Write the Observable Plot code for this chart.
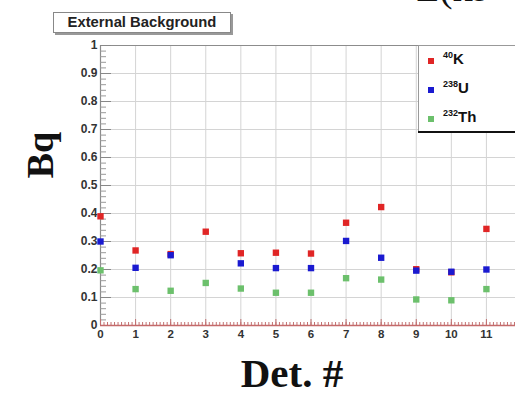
<!DOCTYPE html>
<html>
<head>
<meta charset="utf-8">
<script src="https://cdn.jsdelivr.net/npm/d3@7"></script>
<script src="https://cdn.jsdelivr.net/npm/@observablehq/plot@0.6"></script>
<style>
  html, body { margin: 0; padding: 0; background: #fff; }
  #wrap { position: relative; width: 515px; height: 396px; overflow: hidden; background: #fff; }
  #chart { position: absolute; left: 0; top: 0; width: 540px; }
  #chart svg { max-width: none !important; }
  .title-box { position: absolute; left: 53px; top: 12px; width: 176px; height: 19px;
    border: 1px solid #888; box-shadow: 2px 2px 0 #999; background: #fff;
    font: bold 14.8px "Liberation Sans", Arial, sans-serif; color: #222;
    text-align: center; line-height: 19px; }
  .legend { position: absolute; left: 418px; top: 45px; width: 120px; height: 85px;
    background: #fff; border-left: 1px solid #999; border-top: 1px solid #999;
    box-shadow: 0 2px 0 #111; font-family: "Liberation Sans", Arial, sans-serif; }
  .legend .row { position: absolute; left: 0; height: 20px; }
  .legend .sw { position: absolute; left: 9px; top: 8px; width: 6px; height: 6px; }
  .legend .lab { position: absolute; left: 24px; top: 0; white-space: nowrap;
    font-weight: bold; font-size: 15px; color: #111; }
  .legend sup { font-size: 9px; vertical-align: 6px; }
  .ylab { position: absolute; left: 40px; top: 155px; transform: translate(-50%, -50%) rotate(-90deg);
    font: bold 38px "Liberation Serif", serif; color: #111; white-space: nowrap; }
  .xlab { position: absolute; left: 292px; top: 373px; transform: translate(-50%, -50%);
    font: bold 41px "Liberation Serif", serif; color: #111; white-space: nowrap; }
  .toptext { position: absolute; left: 416px; top: -36px; font: 40px "Liberation Serif", serif; color: #111; white-space: nowrap; }
</style>
</head>
<body>
<div id="wrap">
  <div id="chart"></div>
</div>
<script>
// ---- data ----
const detectors = [0, 1, 2, 3, 4, 5, 6, 7, 8, 9, 10, 11];
const k40  = [0.39, 0.268, 0.255, 0.335, 0.258, 0.26, 0.257, 0.367, 0.423, 0.201, 0.19, 0.345];
const u238 = [0.30, 0.206, 0.251, null, 0.222, 0.205, 0.205, 0.302, 0.242, 0.196, 0.192, 0.20];
const th232 = [0.197, 0.13, 0.124, 0.152, 0.132, 0.117, 0.117, 0.169, 0.164, 0.093, 0.09, 0.13];
const seriesNames = ["40K", "238U", "232Th"];
const seriesColors = ["#e02525", "#1a1ad0", "#6cc06c"];
const yTicks = [0, 0.1, 0.2, 0.3, 0.4, 0.5, 0.6, 0.7, 0.8, 0.9, 1];
const xTicks = [0, 1, 2, 3, 4, 5, 6, 7, 8, 9, 10, 11];
const titleText = "External Background";
const yLabel = "Bq";
const xLabel = "Det. #";

// ---- table ----
const table = [];
[k40, u238, th232].forEach((vals, si) => {
  vals.forEach((v, i) => {
    if (v != null) table.push({det: detectors[i], value: v, series: seriesNames[si]});
  });
});

const W = 540, H = 396, mL = 100, mR = 19, mT = 45, mB = 71;
const plotH = H - mT - mB, plotW = W - mL - mR;
const yMinor = d3.range(0, 1.0001, 0.02).map(d => +d.toFixed(2));
const xMinor = d3.range(0, 12.0001, 0.1).map(d => +d.toFixed(1));

const chart = Plot.plot({
  width: W, height: H,
  marginLeft: mL, marginRight: mR, marginTop: mT, marginBottom: mB,
  style: {background: "transparent", maxWidth: "none"},
  x: {domain: [0, 12], axis: null},
  y: {domain: [0, 1], axis: null},
  color: {domain: seriesNames, range: seriesColors},
  marks: [
    Plot.gridX(xTicks.filter(d => d > 0), {stroke: "#d4d4d4", strokeOpacity: 1}),
    Plot.gridY(yTicks.filter(d => d > 0 && d < 1), {stroke: "#d4d4d4", strokeOpacity: 1}),
    Plot.ruleY([1], {stroke: "#8c8c8c", strokeWidth: 1.2}),
    Plot.ruleX([0], {stroke: "#8c8c8c", strokeWidth: 1.2}),
    Plot.tickY(yMinor, {y: d => d, stroke: "#999", insetRight: plotW - 6}),
    Plot.tickY(yTicks, {y: d => d, stroke: "#888", insetRight: plotW - 11}),
    Plot.tickX(xMinor, {x: d => d, stroke: "#c27070", insetTop: plotH - 3}),
    Plot.tickX(xTicks, {x: d => d, stroke: "#c27070", insetTop: plotH - 6}),
    Plot.ruleY([0], {stroke: "#c46a6a", strokeWidth: 1.5}),
    Plot.axisY({ticks: yTicks, tickSize: 0, tickPadding: 3, label: null,
      tickFormat: d => String(+d.toFixed(1)),
      fontSize: 12, fontWeight: "bold", fill: "#333", fontFamily: "Liberation Sans, Arial, sans-serif"}),
    Plot.axisX({ticks: xTicks, tickSize: 0, tickPadding: 4, label: null,
      tickFormat: d => String(d),
      fontSize: 11.5, fontWeight: "bold", fill: "#333", fontFamily: "Liberation Sans, Arial, sans-serif"}),
    Plot.dot(table, {x: "det", y: "value", fill: "series", symbol: "square", r: 3.6, stroke: "none"})
  ]
});
chart.style.maxWidth = "none";
document.getElementById("chart").appendChild(chart);

// ---- annotations ----
const wrap = document.getElementById("wrap");
const tb = document.createElement("div");
tb.className = "title-box"; tb.textContent = titleText; wrap.appendChild(tb);

const yl = document.createElement("div");
yl.className = "ylab"; yl.textContent = yLabel; wrap.appendChild(yl);
const xl = document.createElement("div");
xl.className = "xlab"; xl.textContent = xLabel; wrap.appendChild(xl);

const topText = document.createElement("div");
topText.className = "toptext"; topText.textContent = "Σ(ks"; wrap.appendChild(topText);

const leg = document.createElement("div");
leg.className = "legend";
seriesNames.forEach((name, i) => {
  const row = document.createElement("div");
  row.className = "row"; row.style.top = (4 + i * 29) + "px";
  const sw = document.createElement("div");
  sw.className = "sw"; sw.style.background = seriesColors[i];
  const lab = document.createElement("div");
  lab.className = "lab";
  const m = name.match(/^(\d+)(.*)$/);
  lab.innerHTML = "<sup>" + m[1] + "</sup>" + m[2];
  row.appendChild(sw); row.appendChild(lab);
  leg.appendChild(row);
});
wrap.appendChild(leg);
</script>
</body>
</html>
